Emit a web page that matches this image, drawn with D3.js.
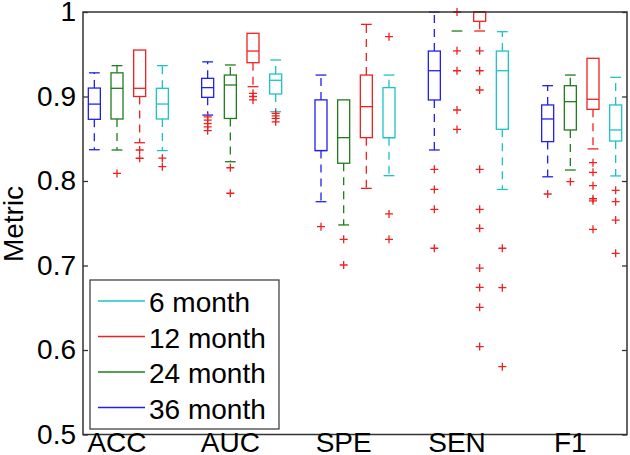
<!DOCTYPE html>
<html><head><meta charset="utf-8">
<script src="https://cdn.jsdelivr.net/npm/d3@7"></script>
<style>
html,body{margin:0;padding:0;background:#fff;}
text{font-family:"Liberation Sans",Arial,sans-serif;}
</style></head>
<body><svg id="c" width="630" height="455"></svg>
<script>
// ---- data ----
const metrics = ["ACC","AUC","SPE","SEN","F1"];
const seriesNames = ["36 month","24 month","12 month","6 month"];
const legendNames = ["6 month","12 month","24 month","36 month"];
const yTicks = [0.5,0.6,0.7,0.8,0.9,1];
// box stats per metric: [lower whisker, q1, median, q3, upper whisker]
const m36 = [[0.837,0.873,0.891,0.910,0.928],[0.878,0.899,0.9105,0.9215,0.941],[0.7755,0.836,0.836,0.896,0.9254],[0.8367,0.8959,0.9305,0.9538,1.0],[0.805,0.8466,0.8734,0.890,0.9128]];
const m24 = [[0.8367,0.8734,0.9097,0.928,0.9365],[0.8228,0.874,0.9136,0.9254,0.9373],[0.748,0.821,0.8513,0.896,0.896],[0.9775,0.9775,0.9775,0.9775,0.9775],[0.813,0.8604,0.8939,0.9128,0.9254]];
const m12 = [[0.8453,0.900,0.9097,0.955,0.955],[0.9116,0.94,0.9538,0.9748,0.9748],[0.7913,0.8513,0.888,0.9254,0.9854],[0.9775,0.989,1.0,1.0,1.0],[0.838,0.8848,0.8967,0.9452,0.9452]];
const m6  = [[0.836,0.8734,0.8911,0.9097,0.9365],[0.882,0.903,0.9192,0.9266,0.9432],[0.8063,0.8513,0.8513,0.9105,0.9254],[0.790,0.8612,0.9305,0.9538,0.9767],[0.806,0.8473,0.8604,0.890,0.9227]];
// outliers per metric
const o36 = [[],[0.876,0.872,0.868,0.864,0.8595],[0.746],[0.8138,0.790,0.7665,0.7204],[0.7846]];
const o24 = [[0.809],[0.8157,0.7855],[0.731,0.7006],[1.0,0.954,0.9305,0.884,0.861],[0.7992]];
const o12 = [[0.8367,0.8269],[0.9038,0.900,0.8959],[],[0.954,0.9305,0.9077,0.8138,0.7665,0.744,0.697,0.674,0.6505,0.604],[0.8217,0.8103,0.7945,0.779,0.7765,0.7428]];
const o6  = [[0.827,0.817],[0.88,0.877,0.874,0.87],[0.9708,0.761,0.731],[0.7204,0.6737,0.5803],[0.789,0.7755,0.7538,0.7144]];

const stats = [m36,m24,m12,m6];
const outs = [o36,o24,o12,o6];
const colors = {"36 month":"#2020ee","24 month":"#1e7d1e","12 month":"#f02020","6 month":"#1cc4c4"};
const outlierColor = "#f02020";

const svg = d3.select("#c");
const L=83, R=627, T=12, B=434.5;
const nSlots = metrics.length*5 - 1;
const x = d3.scaleLinear().domain([-0.5, nSlots-0.5]).range([L,R]);
const y = d3.scaleLinear().domain([0.5,1]).range([B,T]);
const slot = (g,k)=> g*5+k;
const boxW = (x(1)-x(0))*0.53;
const capW = boxW*0.45;

const plot = svg.append("g");
seriesNames.forEach((name,k)=>{
  const col = colors[name];
  metrics.forEach((m,g)=>{
    const [lo,q1,med,q3,hi] = stats[k][g];
    const cx = x(slot(g,k));
    const gg = plot.append("g").attr("stroke",col).attr("fill","none").attr("stroke-width",1.3);
    if (hi>q3){
      gg.append("line").attr("x1",cx).attr("x2",cx).attr("y1",y(q3)).attr("y2",y(hi)).attr("stroke-dasharray","8,6");
      gg.append("line").attr("x1",cx-capW).attr("x2",cx+capW).attr("y1",y(hi)).attr("y2",y(hi));
    }
    if (lo<q1){
      gg.append("line").attr("x1",cx).attr("x2",cx).attr("y1",y(q1)).attr("y2",y(lo)).attr("stroke-dasharray","8,6");
      gg.append("line").attr("x1",cx-capW).attr("x2",cx+capW).attr("y1",y(lo)).attr("y2",y(lo));
    }
    if (q3>q1){
      gg.append("rect").attr("x",cx-boxW/2).attr("y",y(q3)).attr("width",boxW).attr("height",y(q1)-y(q3));
      gg.append("line").attr("x1",cx-boxW/2).attr("x2",cx+boxW/2).attr("y1",y(med)).attr("y2",y(med));
    } else {
      gg.append("line").attr("x1",cx-capW).attr("x2",cx+capW).attr("y1",y(med)).attr("y2",y(med));
    }
    outs[k][g].forEach(v=>{
      const oy=y(v);
      plot.append("path").attr("d",`M${cx-4},${oy}H${cx+4}M${cx},${oy-4}V${oy+4}`)
        .attr("stroke",outlierColor).attr("stroke-width",1.3).attr("fill","none");
    });
  });
});

// frame
svg.append("rect").attr("x",L).attr("y",T).attr("width",R-L).attr("height",B-T)
  .attr("fill","none").attr("stroke","#333").attr("stroke-width",1.5);

// y axis
const fmt = d=> d===1?"1":d3.format(".1f")(d);
const ya = svg.append("g").attr("transform",`translate(${L},0)`)
  .call(d3.axisLeft(y).tickValues(yTicks).tickFormat(fmt).tickSizeInner(-5).tickSizeOuter(0).tickPadding(7));
ya.select(".domain").remove();
ya.selectAll("line").attr("stroke","#333").attr("stroke-width",1.3);
ya.selectAll("text").attr("font-size",28).attr("fill","#000").attr("font-family","'Liberation Sans',Arial,sans-serif");
const yr = svg.append("g").attr("transform",`translate(${R},0)`)
  .call(d3.axisRight(y).tickValues(yTicks).tickFormat("").tickSizeInner(-5).tickSizeOuter(0));
yr.select(".domain").remove();
yr.selectAll("line").attr("stroke","#333").attr("stroke-width",1.3);

// x labels
svg.append("g").selectAll("text").data(metrics).join("text")
  .attr("x",(d,i)=>x(slot(i,1))).attr("y",452).attr("text-anchor","middle")
  .attr("font-size",28).attr("fill","#000").text(d=>d);

// y label
svg.append("text").attr("transform","translate(23,224) rotate(-90)")
  .attr("text-anchor","middle").attr("font-size",28).attr("fill","#000").text("Metric");

// legend
const lg = svg.append("g");
lg.append("rect").attr("x",90).attr("y",280).attr("width",189).attr("height",149)
  .attr("fill","#fff").attr("stroke","#444").attr("stroke-width",1.3);
legendNames.forEach((n,i)=>{
  const by = 312 + i*35.5;
  lg.append("line").attr("x1",98).attr("x2",145).attr("y1",by-11).attr("y2",by-11)
    .attr("stroke",colors[n]).attr("stroke-width",1.3);
  lg.append("text").attr("x",149).attr("y",by).attr("font-size",28).attr("fill","#000").text(n);
});
</script></body></html>
